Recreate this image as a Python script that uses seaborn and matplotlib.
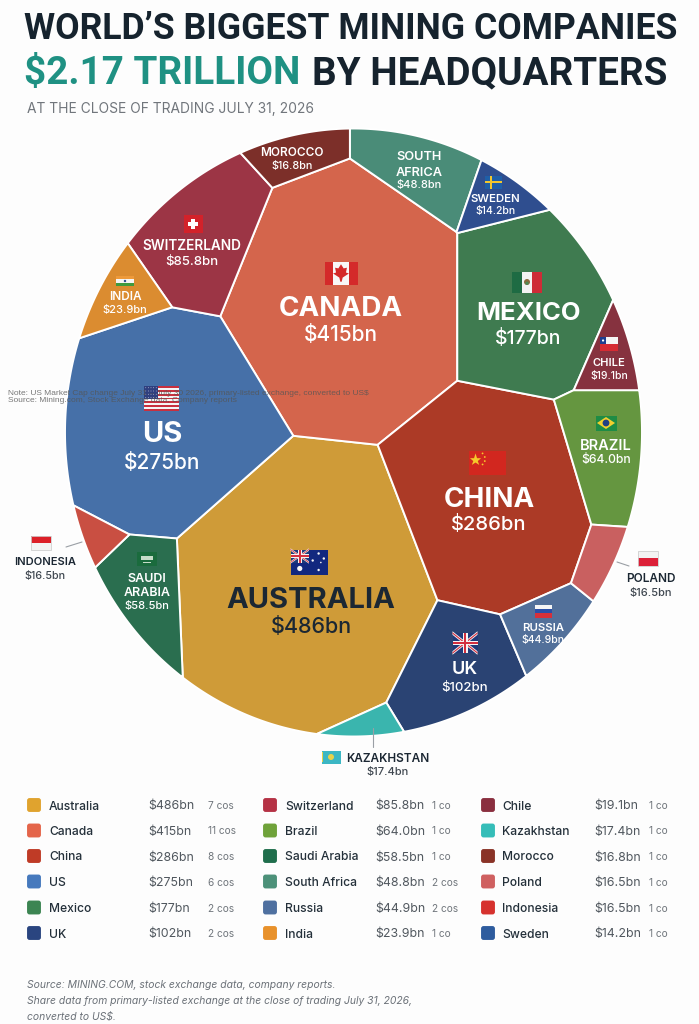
import numpy as np
import pandas as pd
import matplotlib
matplotlib.use("Agg")
import matplotlib.pyplot as plt
from matplotlib.patches import Rectangle, Polygon, Circle, FancyBboxPatch
import seaborn as sns

countries = ["Australia", "Canada", "China", "US", "Mexico", "UK",
             "Switzerland", "Brazil", "Saudi Arabia", "South Africa", "Russia", "India",
             "Chile", "Kazakhstan", "Morocco", "Poland", "Indonesia", "Sweden"]
values_bn = [486, 415, 286, 275, 177, 102, 85.8, 64.0, 58.5, 48.8, 44.9, 23.9,
             19.1, 17.4, 16.8, 16.5, 16.5, 14.2]
value_labels = ["$486bn", "$415bn", "$286bn", "$275bn", "$177bn", "$102bn",
                "$85.8bn", "$64.0bn", "$58.5bn", "$48.8bn", "$44.9bn", "$23.9bn",
                "$19.1bn", "$17.4bn", "$16.8bn", "$16.5bn", "$16.5bn", "$14.2bn"]
company_counts = ["7 cos", "11 cos", "8 cos", "6 cos", "2 cos", "2 cos",
                  "1 co", "1 co", "1 co", "2 cos", "2 cos", "1 co",
                  "1 co", "1 co", "1 co", "1 co", "1 co", "1 co"]
cell_colors = ["#CF9B38", "#D4654C", "#AC3A26", "#4670A8", "#3F7B50", "#2A4373",
               "#9C3545", "#659640", "#2A6E4F", "#4A8C78", "#52709A", "#DB8C30",
               "#86323F", "#3AB5AE", "#7C2F29", "#C96060", "#C94F42", "#2F4E8F"]
swatch_colors = ["#E0A32E", "#E4654A", "#BF3B26", "#4679BD", "#3C8552", "#2A4580",
                 "#B53245", "#6FA23A", "#1F6E4C", "#4C9179", "#4F70A0", "#E8912B",
                 "#8A2F3F", "#35BDB8", "#8A3327", "#CF6060", "#D6322E", "#2E5C9E"]

# Layout of the Voronoi treemap: the seed of each cell, and how far the drawn
# cell departs from strict proportionality to its value.
seed_x = [315, 345, 510, 165, 550, 475, 197, 630, 150, 445, 562, 125, 630, 378, 290, 625, 100, 520]
seed_y = [585, 305, 510, 415, 305, 665, 245, 474, 592, 160, 628, 295, 340, 724, 160, 550, 540, 186]
area_factor = [.93, .95, .97, 1.08, 1.02, .87, 1.24, 1.11, 1.0, 1.21, .76, 1.32,
               1.31, .68, 1.83, 1.14, .72, 1.84]
CX, CY, RX, RY = 353.5, 432.5, 288.5, 304.0


def clip(poly, a, b, c):
    d = a * poly[:, 0] + b * poly[:, 1] - c
    inside = d <= 0
    if inside.all():
        return poly
    if not inside.any():
        return poly[:0]
    nxt = np.roll(inside, -1)
    k_in = np.flatnonzero(~inside & nxt)[0]
    k_out = np.flatnonzero(inside & ~nxt)[0]
    n = len(poly)
    j = (k_in + 1) % n
    idx = [(j + m) % n for m in range((k_out - j) % n + 1)]
    def cross(k):
        p, q = poly[k], poly[(k + 1) % n]
        t = d[k] / (d[k] - d[(k + 1) % n])
        return p + t * (q - p)
    return np.vstack([cross(k_in), poly[idx], cross(k_out)])


def area(poly):
    if len(poly) < 3:
        return 0.0
    x, y = poly[:, 0], poly[:, 1]
    return 0.5 * abs(np.dot(x, np.roll(y, -1)) - np.dot(y, np.roll(x, -1)))


def power_cells(sites, weights, nboundary):
    th = np.linspace(0, 2 * np.pi, nboundary, endpoint=False)
    boundary = np.c_[CX + RX * np.cos(th), CY + RY * np.sin(th)]
    cells = []
    for i, s in enumerate(sites):
        poly = boundary
        for j, t in enumerate(sites):
            if i != j and len(poly):
                a, b = 2 * (t - s)
                c = (t @ t - weights[j]) - (s @ s - weights[i])
                poly = clip(poly, a, b, c)
        cells.append(poly)
    return cells


sites = np.c_[seed_x, seed_y].astype(float)
targets = np.array(values_bn) * np.array(area_factor)
targets = targets / targets.sum() * area(power_cells(sites[:1], np.zeros(1), 180)[0])
w = np.zeros(len(sites))
for _ in range(400):
    cells = power_cells(sites, w, 180)
    w += 0.4 * (targets - np.array([area(c) for c in cells]))
    w -= w.mean()
cells = power_cells(sites, w, 720)

sns.set_theme(style="white", rc={"axes.facecolor": "#FDFDFD", "figure.facecolor": "#FDFDFD"})
plt.rcParams["font.family"] = ["Inter", "DejaVu Sans"]
fig = plt.figure(figsize=(6.99, 10.24), dpi=100)
ax = fig.add_axes([0, 0, 1, 1])
ax.set_xlim(0, 699)
ax.set_ylim(1024, 0)
ax.set_axis_off()

for poly, col in zip(cells, cell_colors):
    ax.fill(poly[:, 0], poly[:, 1], facecolor=col, edgecolor="white", lw=1.4, joinstyle="round", zorder=2)


# --- flags ---------------------------------------------------------------
def flag(cx, cy, w_, h, draw):
    def R(x0, y0, x1, y1, c):
        ax.add_patch(Rectangle((cx - w_ / 2 + x0 * w_, cy - h / 2 + y0 * h), (x1 - x0) * w_, (y1 - y0) * h,
                               facecolor=c, edgecolor="none", zorder=4))
    def P(pts, c, lw=0):
        q = [(cx - w_ / 2 + x * w_, cy - h / 2 + y * h) for x, y in pts]
        ax.add_patch(Polygon(q, closed=True, facecolor=c, edgecolor="none", zorder=4))
    def C(x, y, r, c):
        ax.add_patch(Circle((cx - w_ / 2 + x * w_, cy - h / 2 + y * h), r, facecolor=c, edgecolor="none", zorder=5))
    draw(R, P, C)


def hstripes(cols):
    def d(R, P, C):
        for k, c in enumerate(cols):
            R(0, k / len(cols), 1, (k + 1) / len(cols), c)
    return d


def vstripes(cols):
    def d(R, P, C):
        for k, c in enumerate(cols):
            R(k / len(cols), 0, (k + 1) / len(cols), 1, c)
    return d


def jack(R, P, C, x1=1.0, y1=1.0):
    R(0, 0, x1, y1, "#1F3A7A")
    t = 0.09 * y1
    for s in (1, -1):
        a = (0, 0) if s == 1 else (0, y1)
        b = (x1, y1) if s == 1 else (x1, 0)
        P([(a[0], a[1] - t), (b[0], b[1] - t), (b[0], b[1] + t), (a[0], a[1] + t)], "#F4F4F4")
        P([(a[0], a[1] - t / 2.5), (b[0], b[1] - t / 2.5), (b[0], b[1] + t / 2.5), (a[0], a[1] + t / 2.5)], "#D32F3F")
    R(x1 * .4, 0, x1 * .6, y1, "#F4F4F4")
    R(0, y1 * .38, x1, y1 * .62, "#F4F4F4")
    R(x1 * .45, 0, x1 * .55, y1, "#D32F3F")
    R(0, y1 * .44, x1, y1 * .56, "#D32F3F")


def f_us(R, P, C):
    for k in range(13):
        R(0, k / 13, 1, (k + 1) / 13, "#C8303F" if k % 2 == 0 else "#F5F5F5")
    R(0, 0, .4, 7 / 13, "#2F3F7F")
    for i in range(5):
        for j in range(4):
            C(.05 + i * .075, .07 + j * .13, .4, "#E8E8F0")


def f_ca(R, P, C):
    R(0, 0, .25, 1, "#D42A2A"); R(.25, 0, .75, 1, "#F8F8F8"); R(.75, 0, 1, 1, "#D42A2A")
    P([(.5, .12), (.58, .3), (.68, .27), (.65, .48), (.74, .52), (.55, .7), (.52, .88), (.48, .88),
       (.45, .7), (.26, .52), (.35, .48), (.32, .27), (.42, .3)], "#D42A2A")


def f_mx(R, P, C):
    vstripes(["#1E6B43", "#F3F3F3", "#CE2B37"])(R, P, C)
    C(.5, .5, 3.0, "#8C6B3F")
    C(.5, .56, 1.7, "#4F8A55")


def f_cn(R, P, C):
    R(0, 0, 1, 1, "#D2271F")
    P([(.19, .1), (.23, .3), (.34, .3), (.25, .42), (.29, .58), (.19, .48), (.09, .58), (.13, .42), (.04, .3), (.15, .3)], "#F6C92B")
    for x, y in [(.38, .1), (.44, .25), (.44, .42), (.38, .56)]:
        C(x, y, .9, "#F6C92B")


def f_au(R, P, C):
    R(0, 0, 1, 1, "#12287F")
    jack(R, P, C, .5, .52)
    C(.25, .76, 2.6, "#F6F6F6")
    for x, y, r in [(.76, .16, 1.2), (.76, .82, 1.2), (.6, .44, 1.2), (.9, .36, 1.2), (.82, .52, .8)]:
        C(x, y, r, "#F6F6F6")


def f_ch(R, P, C):
    R(0, 0, 1, 1, "#D2222A")
    R(.22, .41, .78, .59, "#FFFFFF")
    R(.41, .2, .59, .8, "#FFFFFF")


def f_se(R, P, C):
    R(0, 0, 1, 1, "#1F5FA8")
    R(.3, 0, .47, 1, "#F3C62D")
    R(0, .41, 1, .59, "#F3C62D")


def f_cl(R, P, C):
    R(0, 0, 1, .5, "#F5F5F5")
    R(0, .5, 1, 1, "#D52B33")
    R(0, 0, .34, .5, "#1F3E8F")
    C(.17, .25, 1.1, "#FFFFFF")


def f_br(R, P, C):
    R(0, 0, 1, 1, "#1E8C45")
    P([(.5, .1), (.93, .5), (.5, .9), (.07, .5)], "#F2CF2E")
    C(.5, .5, 3.4, "#223F83")


def f_sa(R, P, C):
    R(0, 0, 1, 1, "#1A6B3D")
    R(.2, .32, .8, .55, "#C6DCC9")
    R(.3, .72, .7, .77, "#C6DCC9")


def f_in(R, P, C):
    hstripes(["#EE9A3A", "#F5F5F5", "#3F9A3E"])(R, P, C)
    C(.5, .5, 1.2, "#2A4D8F")


def f_id(R, P, C):
    R(0, 0, 1, .5, "#DC2028")
    R(0, .5, 1, 1, "#F3F3F3")
    ax.add_patch(Rectangle((31, 536), 20, 14, fill=False, edgecolor="#CFCFCF", lw=.6, zorder=5))


def f_pl(R, P, C):
    R(0, 0, 1, .5, "#F3F3F3")
    R(0, .5, 1, 1, "#DC2038")
    ax.add_patch(Rectangle((638, 550.5), 20, 15, fill=False, edgecolor="#CFCFCF", lw=.6, zorder=5))


def f_kz(R, P, C):
    R(0, 0, 1, 1, "#3CB7C4")
    C(.5, .5, 3.0, "#E9D24B")
    R(.05, .1, .1, .9, "#E9D24B")


def f_uk(R, P, C):
    R(0, 0, 1, 1, "#2A4373")
    jack(R, P, C)


flag(161.5, 398.5, 35, 25, f_us)
flag(341, 273, 33, 23, f_ca)
flag(527, 282, 30, 21, f_mx)
flag(487, 463, 37, 24, f_cn)
flag(309, 562, 37, 25, f_au)
flag(465, 643, 25, 20, f_uk)
flag(193, 224, 19, 18, f_ch)
flag(125, 281, 18, 10, f_in)
flag(493, 182, 17, 13, f_se)
flag(609, 344, 18, 14, f_cl)
flag(606, 423, 21, 15, f_br)
flag(147, 559, 20, 14, f_sa)
flag(543, 611, 17, 13, hstripes(["#F5F5F5", "#2A4FA8", "#D6303A"]))
flag(41, 543, 20, 14, f_id)
flag(648, 558, 20, 15, f_pl)
flag(331, 757, 19, 13, f_kz)

# --- cell labels ---------------------------------------------------------
DARK = "#1B2733"
GREY = "#3F4750"


def label(name_lines, value, x, ys, yv, fs, fv, col="white", vcol=None, weight="semibold", vweight="medium"):
    for line, y in zip(name_lines, ys):
        ax.text(x, y, line, ha="center", va="center_baseline", fontsize=fs, color=col, fontweight=weight, zorder=6)
    ax.text(x, yv, value, ha="center", va="center_baseline", fontsize=fv, color=vcol or col, fontweight=vweight, zorder=6)


vals = dict(zip(countries, value_labels))
label(["AUSTRALIA"], vals["Australia"], 311, [598], 625, 21, 15.5, col=DARK, weight="bold")
label(["CANADA"], vals["Canada"], 341, [306], 333, 20, 15, weight="bold")
label(["CHINA"], vals["China"], 489, [497], 523, 20, 14.5, weight="bold")
label(["US"], vals["US"], 162, [432], 461, 21, 15, weight="bold")
label(["MEXICO"], vals["Mexico"], 528, [311], 336, 18.5, 14, weight="bold")
label(["UK"], vals["UK"], 465, [668], 686, 13, 9.5)
label(["SWITZERLAND"], vals["Switzerland"], 192, [245], 261, 9.8, 9.5)
label(["INDIA"], vals["India"], 125, [296], 309, 8.5, 8)
label(["MOROCCO"], vals["Morocco"], 292, [152], 165, 8.5, 7.8)
label(["SOUTH", "AFRICA"], vals["South Africa"], 419, [156, 171], 184, 9.2, 8)
label(["SWEDEN"], vals["Sweden"], 495, [198], 210, 8.2, 7.5)
label(["CHILE"], vals["Chile"], 609, [362], 375, 8, 7.5)
label(["BRAZIL"], vals["Brazil"], 606, [444], 459, 10.5, 8.8)
label(["SAUDI", "ARABIA"], vals["Saudi Arabia"], 147, [577, 591], 605, 9, 8)
label(["RUSSIA"], vals["Russia"], 543, [627], 639, 8.2, 7.5)
label(["INDONESIA"], vals["Indonesia"], 45, [561], 575, 8, 7.8, col=DARK, vcol=GREY)
label(["POLAND"], vals["Poland"], 651, [577], 592, 8.5, 8, col=DARK, vcol=GREY)
label(["KAZAKHSTAN"], vals["Kazakhstan"], 388, [757], 771, 8.5, 8, col=DARK, vcol=GREY)
for xs, ys in [((66, 82), (547, 542)), ((617, 629), (562, 566)), ((373, 373), (728, 747))]:
    ax.plot(xs, ys, color="#9A9FA5", lw=0.8, zorder=3)

# --- title ---------------------------------------------------------------
TITLE_FONT = "Roboto"
TITLE_SIZE = 27
t1 = ax.text(24, 25, "WORLD\u2019S BIGGEST MINING COMPANIES", fontsize=TITLE_SIZE, fontweight="bold", family=TITLE_FONT,
             color="#16232E", va="center_baseline", ha="left", zorder=6)
renderer = fig.canvas.get_renderer()
TITLE_SIZE = TITLE_SIZE * 654 / t1.get_window_extent(renderer).width
t1.set_fontsize(TITLE_SIZE)
LINE2_SIZE = TITLE_SIZE * 1.083
ax.text(24, 70, "$2.17 TRILLION", fontsize=LINE2_SIZE, fontweight="bold", family=TITLE_FONT, color="#1F9183",
        va="center_baseline", ha="left", zorder=6)
ax.text(312, 70, "BY HEADQUARTERS", fontsize=LINE2_SIZE, fontweight="bold", family=TITLE_FONT, color="#16232E",
        va="center_baseline", ha="left", zorder=6)
ax.text(27, 108, "AT THE CLOSE OF TRADING JULY 31, 2026", fontsize=9.95, color="#71767C", va="center_baseline", ha="left", zorder=6)

note = ["Note: US Market Cap change July 31 \u2013 July 30 2026, primary-listed exchange, converted to US$",
        "Source: Mining.com, Stock Exchange data, Company reports"]
for line, y in zip(note, (393.5, 401)):
    ax.text(8, y, line, fontsize=6.05, family="Liberation Sans", color="#555555", alpha=0.8, va="center", ha="left", zorder=7)

# --- legend table --------------------------------------------------------
columns = [(34, 49, 148, 208), (270, 285, 375, 432), (488, 502, 594, 649)]
rows_y = [805, 830.5, 856, 881.5, 907.5, 933]
legend = pd.DataFrame({
    "country": countries,
    "x": [columns[i // 6][0] for i in range(18)],
    "y": [rows_y[i % 6] for i in range(18)],
})
rounded = FancyBboxPatch((-.5, -.5), 1, 1, boxstyle="round,pad=0,rounding_size=.18").get_path()
sns.scatterplot(data=legend, x="x", y="y", hue="country", palette=dict(zip(countries, swatch_colors)),
                marker=rounded, s=100, linewidth=0, legend=False, ax=ax, zorder=4)
ax.set_xlabel("")
ax.set_ylabel("")
for i, c in enumerate(countries):
    col = columns[i // 6]
    y = rows_y[i % 6]
    ax.text(col[1], y, c, fontsize=8.7, fontweight="medium", color="#24303A", va="center_baseline", ha="left")
    ax.text(col[2], y, value_labels[i], fontsize=8.9, color="#50575E", va="center_baseline", ha="left")
    ax.text(col[3], y, company_counts[i], fontsize=7.3, color="#70767C", va="center_baseline", ha="left")

source = ["Source: MINING.COM, stock exchange data, company reports.",
          "Share data from primary-listed exchange at the close of trading July 31, 2026,",
          "converted to US$."]
for line, y in zip(source, (984, 1000, 1016)):
    ax.text(27, y, line, fontsize=7.45, style="italic", color="#6B7178", va="center_baseline", ha="left")

fig.savefig("out.png", dpi=100)
